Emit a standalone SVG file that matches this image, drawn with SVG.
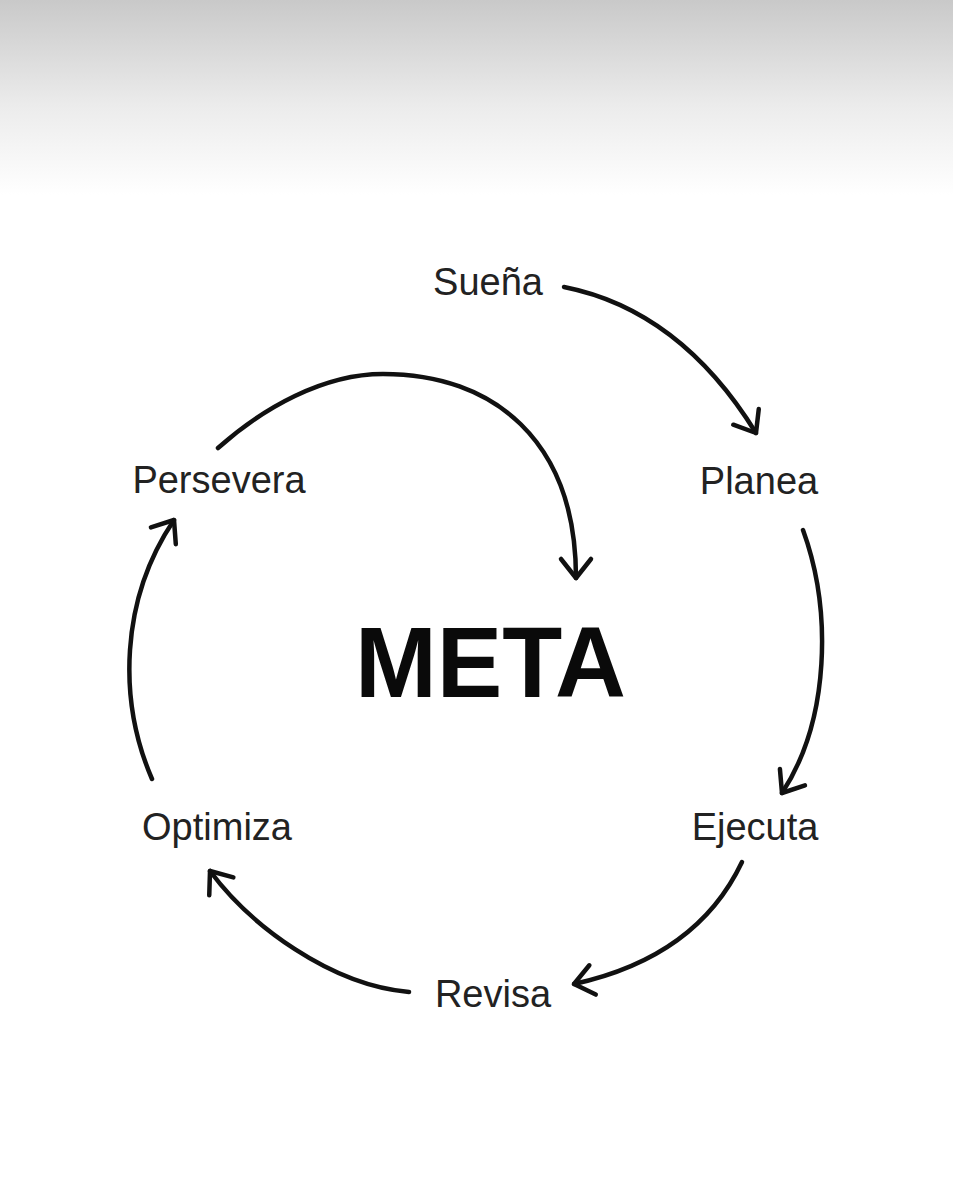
<svg xmlns="http://www.w3.org/2000/svg" width="953" height="1200" viewBox="0 0 953 1200">
<defs>
<linearGradient id="topfade" x1="0" y1="0" x2="0" y2="1">
<stop offset="0" stop-color="#c9c9c9"/>
<stop offset="0.55" stop-color="#ececec"/>
<stop offset="1" stop-color="#ffffff"/>
</linearGradient>
<marker id="ah" markerUnits="userSpaceOnUse" viewBox="-24 -20 30 40" refX="0" refY="0" markerWidth="30" markerHeight="40" orient="auto" overflow="visible">
<path d="M-19,-15 L0,0 L-19,15" fill="none" stroke="#111" stroke-width="4.5" stroke-linecap="round" stroke-linejoin="round"/>
</marker>
<style>
.lbl{font-family:"Liberation Sans",Arial,sans-serif;font-size:38px;fill:#222;text-anchor:middle}
.meta{font-family:"Liberation Sans",Arial,sans-serif;font-size:100px;font-weight:bold;fill:#0a0a0a;text-anchor:middle}
.conn{fill:none;stroke:#111;stroke-width:4.5;stroke-linecap:round;marker-end:url(#ah)}
</style>
</defs>
<rect x="0" y="0" width="953" height="1200" fill="#ffffff"/>
<rect x="0" y="0" width="953" height="195" fill="url(#topfade)"/>
<g id="connectors">
<path class="conn" d="M564,287 Q680,310 756,433"/>
<path class="conn" d="M803,530 C832,610 830,720 782,793"/>
<path class="conn" d="M742,862 Q697,957 574,984"/>
<path class="conn" d="M409,992 C330,985 250,925 210,871"/>
<path class="conn" d="M152,779 C118,700 120,600 174,520"/>
<path class="conn" d="M218,448 C263,408 323,374 383,374 C493,374 576,440 576,578"/>
</g>
<g id="node-suena"><text class="lbl" x="488" y="295">Sueña</text></g>
<g id="node-planea"><text class="lbl" x="759" y="494">Planea</text></g>
<g id="node-ejecuta"><text class="lbl" x="755" y="840">Ejecuta</text></g>
<g id="node-revisa"><text class="lbl" x="493" y="1007">Revisa</text></g>
<g id="node-optimiza"><text class="lbl" x="217" y="840">Optimiza</text></g>
<g id="node-persevera"><text class="lbl" x="219" y="493">Persevera</text></g>
<g id="node-meta"><text class="meta" x="490.5" y="697" textLength="271" lengthAdjust="spacingAndGlyphs">META</text></g>
</svg>
